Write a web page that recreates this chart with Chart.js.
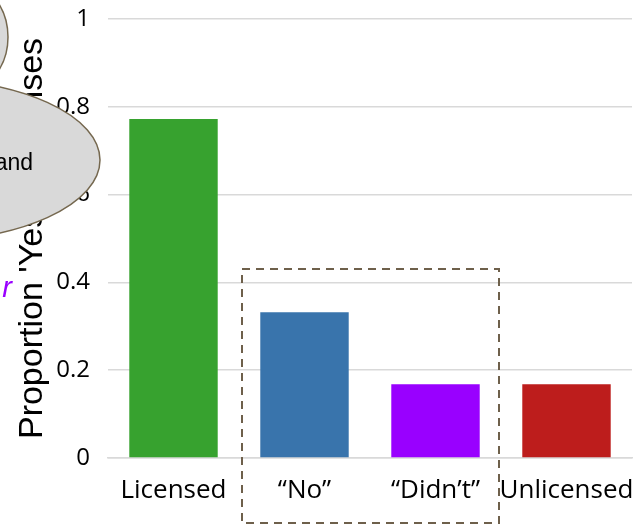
<!DOCTYPE html>
<html><head><meta charset="utf-8">
<script src="https://cdn.jsdelivr.net/npm/chart.js@4"></script>
<style>html,body{margin:0;padding:0;background:#fff;}#wrap{width:635px;height:525px;position:relative;}</style>
</head><body><div id="wrap"><canvas id="c" width="635" height="525"></canvas></div>
<script>
const categories = ['Licensed', '\u201CNo\u201D', '\u201CDidn\u2019t\u201D', 'Unlicensed'];
const values = [0.772, 0.332, 0.168, 0.168];
const barColors = ['#37a22f', '#3974ac', '#9900ff', '#bd1d1c'];
const yTicks = [0, 0.2, 0.4, 0.6, 0.8, 1];
const yTitle = "Proportion 'Yes' responses";

function zeroPad(s) { s.paddingTop = 0; s.paddingBottom = 0; s.paddingLeft = 0; s.paddingRight = 0; }

const overlay = {
  id: 'overlay',
  afterDraw(chart) {
    const ctx = chart.ctx;
    ctx.save();
    // ellipse 1
    ctx.beginPath();
    ctx.ellipse(-45, 37, 53, 59, 0, 0, Math.PI * 2);
    ctx.fillStyle = '#d9d9d9'; ctx.fill();
    ctx.strokeStyle = '#75684f'; ctx.lineWidth = 1.5; ctx.stroke();
    // ellipse 2
    ctx.beginPath();
    ctx.ellipse(-80, 160, 180, 81.5, 0, 0, Math.PI * 2);
    ctx.fillStyle = '#d9d9d9'; ctx.fill();
    ctx.strokeStyle = '#75684f'; ctx.lineWidth = 1.5; ctx.stroke();
    ctx.fillStyle = '#000';
    ctx.font = '23px "Liberation Sans"';
    ctx.textAlign = 'right'; ctx.textBaseline = 'alphabetic';
    ctx.fillText('and', 33, 170);
    // purple r
    ctx.fillStyle = '#9900ff';
    ctx.font = 'italic 29px "Liberation Sans"';
    ctx.fillText('r', 12, 297);
    // dashed box
    ctx.setLineDash([8, 6]);
    ctx.strokeStyle = '#6e604b'; ctx.lineWidth = 2;
    ctx.strokeRect(242, 269, 257, 254);
    ctx.restore();
  }
};

new Chart(document.getElementById('c'), {
  type: 'bar',
  data: {
    labels: categories,
    datasets: [{ data: values, backgroundColor: barColors, barPercentage: 0.675, categoryPercentage: 1 }]
  },
  options: {
    responsive: false,
    animation: false,
    devicePixelRatio: 1,
    layout: { autoPadding: false, padding: { top: 19, right: 3, left: 0, bottom: 0 } },
    plugins: { legend: { display: false }, tooltip: { enabled: false } },
    scales: {
      x: {
        grid: { display: false },
        border: { display: true, color: '#d9d9d9', width: 1.5 },
        ticks: { color: '#000', font: { family: '"Open Sans"', size: 26 }, padding: 9, maxRotation: 0, autoSkip: false },
        afterFit(s) { s.height = 67; zeroPad(s); }
      },
      y: {
        min: 0, max: 1,
        afterBuildTicks(s) { s.ticks = yTicks.map(v => ({ value: v })); },
        grid: { color: '#d9d9d9', lineWidth: 1.5, drawTicks: false },
        border: { display: false },
        ticks: { color: '#000', font: { family: '"Open Sans"', size: 24 }, padding: 18, callback: v => String(v) },
        title: { display: true, text: yTitle, color: '#000', font: { family: '"Liberation Sans"', size: 34 }, padding: { top: 12, bottom: 0 } },
        afterFit(s) { s.width = 108; zeroPad(s); }
      }
    }
  },
  plugins: [overlay]
});
</script></body></html>
